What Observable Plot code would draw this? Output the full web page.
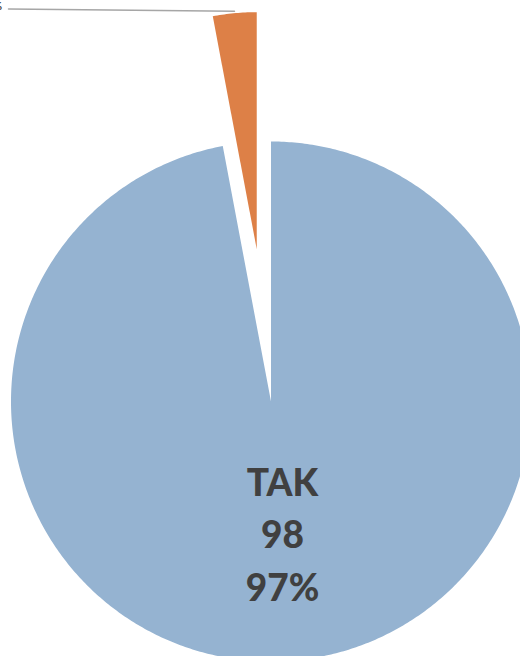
<!DOCTYPE html>
<html>
<head>
<meta charset="utf-8">
<script src="https://cdn.jsdelivr.net/npm/d3@7"></script>
<script src="https://cdn.jsdelivr.net/npm/@observablehq/plot@0.6"></script>
<style>
  html, body { margin: 0; padding: 0; background: #ffffff; }
  #chart { width: 520px; height: 656px; overflow: hidden; }
</style>
</head>
<body>
<div id="chart"></div>
<script>
// ---- data ----
const categories = ["TAK", "NIE"];
const counts = [98, 3];
const percents = [97, 3];
const colors = ["#95B3D1", "#DD8047"];

// ---- layout constants (pixel units, y up) ----
const W = 520, H = 656;
const cxPx = 270.5, cyPx = 401;
const R = 260;            // main pie radius
const explodeR = 237;     // radius of the exploded slice
const explodeOffset = 153;
const exploded = "NIE";

const arcs = d3.pie().sort(null).value((d, i) => counts[i]).startAngle(0).endAngle(2 * Math.PI)(categories);

const slicePts = [];
const sliceInfo = {};
arcs.forEach((a, i) => {
  const cat = categories[i];
  const mid = (a.startAngle + a.endAngle) / 2;
  const isEx = cat === exploded;
  const ox = isEx ? explodeOffset * Math.sin(mid) : 0;
  const oy = isEx ? explodeOffset * Math.cos(mid) : 0;
  const r = isEx ? explodeR : R;
  sliceInfo[cat] = {mid, ox, oy, r};
  slicePts.push({cat, x: ox, y: oy});
  const n = Math.max(4, Math.ceil((a.endAngle - a.startAngle) / 0.01));
  for (let k = 0; k <= n; k++) {
    const t = a.startAngle + (a.endAngle - a.startAngle) * k / n;
    slicePts.push({cat, x: ox + r * Math.sin(t), y: oy + r * Math.cos(t)});
  }
});

// label for TAK (inside)
const innerLabels = [{
  text: `${categories[0]}\n${counts[0]}\n${percents[0]}%`,
  x: 11.5, y: -130
}];

// leader line for NIE: from label anchor to outer edge of exploded slice
const nie = sliceInfo["NIE"];
const leaderEnd = {x: nie.ox + (nie.r + 2) * Math.sin(nie.mid), y: nie.oy + (nie.r + 2) * Math.cos(nie.mid)};
const labelAnchor = {x: 8 - cxPx, y: cyPx - 8.5};
const leader = [labelAnchor, leaderEnd];
// outer label sits mostly beyond the left edge (as in the reference, only a sliver shows)
const outerLabels = [{text: `${categories[1]}\n${counts[1]}\n${percents[1]}%`, x: labelAnchor.x - 6.5, y: labelAnchor.y - 1}];

const plot = Plot.plot({
  width: W, height: H,
  margin: 0,
  x: {domain: [-cxPx, W - cxPx], axis: null},
  y: {domain: [cyPx - H, cyPx], axis: null},
  color: {domain: categories, range: colors},
  style: {background: "#ffffff"},
  marks: [
    Plot.line(slicePts, {x: "x", y: "y", z: "cat", fill: "cat", stroke: "none", curve: "linear-closed"}),
    Plot.line(leader, {x: "x", y: "y", stroke: "#A6A6A6", strokeWidth: 1.5}),
    Plot.text(innerLabels, {
      x: "x", y: "y", text: "text",
      fill: "#404040", fontSize: 37, fontWeight: 900,
      fontFamily: "Lato, 'Open Sans', sans-serif",
      lineHeight: 1.43, lineAnchor: "middle", textAnchor: "middle"
    }),
    Plot.text(outerLabels, {
      x: "x", y: "y", text: "text",
      fill: "#404040", fontSize: 12, fontWeight: "bold",
      fontFamily: "Lato, 'Open Sans', sans-serif",
      lineHeight: 1.3, lineAnchor: "bottom", textAnchor: "end"
    })
  ]
});
document.getElementById("chart").appendChild(plot);
</script>
</body>
</html>
